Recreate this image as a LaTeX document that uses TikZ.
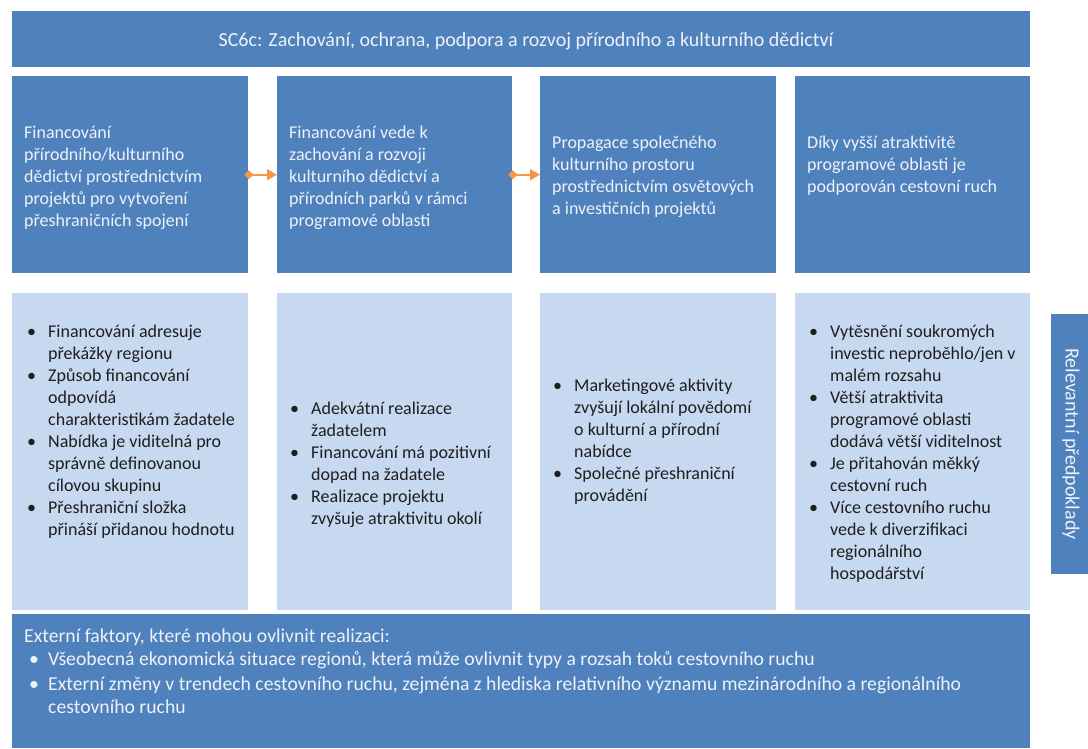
\documentclass[tikz,border=0pt]{standalone}
\usepackage{fontspec}
\setmainfont{Carlito}
\usetikzlibrary{arrows.meta}
\definecolor{dblue}{RGB}{79,129,189}
\definecolor{lblue}{RGB}{198,217,241}
\definecolor{ltext}{RGB}{238,242,248}
\definecolor{dtext}{RGB}{30,30,30}
\definecolor{aorange}{RGB}{247,150,70}
\newcommand{\bl}{\makebox[21pt][l]{\textbullet}}
\newcommand{\nb}{\makebox[21pt][l]{}}
\tikzset{
  x=1pt,y=-1pt,
  darkbox/.style={fill=dblue,draw=none},
  lightbox/.style={fill=lblue,draw=none},
  txt/.style={inner sep=0pt,anchor=north west,align=left,font=\fontsize{18}{22}\selectfont},
  wtxt/.style={txt,text=ltext},
  btxt/.style={txt,text=dtext},
  bigtxt/.style={wtxt,font=\fontsize{20}{23}\selectfont},
  exttxt/.style={wtxt,font=\fontsize{19.7}{23}\selectfont},
  flow/.style={draw=aorange,line width=1.8pt,{Diamond[length=9pt,width=9pt]}-{Triangle[length=10pt,width=11pt]},shorten <=-4pt}
}
\begin{document}
\begin{tikzpicture}
\useasboundingbox (0,0) rectangle (1088,748);
\fill[white] (0,0) rectangle (1088,748);
% title
\fill[dblue] (12,11) rectangle (1030,67);
\node[bigtxt,anchor=center] (title) at (526,41) {SC6c: Zachování, ochrana, podpora a rozvoj přírodního a kulturního dědictví};
% row 1
\node[darkbox,anchor=north west,minimum width=236pt,minimum height=197pt,inner sep=0] (a1) at (12,76) {};
\node[darkbox,anchor=north west,minimum width=235pt,minimum height=197pt,inner sep=0] (a2) at (277,76) {};
\node[darkbox,anchor=north west,minimum width=236pt,minimum height=197pt,inner sep=0] (a3) at (540,76) {};
\node[darkbox,anchor=north west,minimum width=235pt,minimum height=197pt,inner sep=0] (a4) at (795,76) {};
\node[wtxt] (t1) at (24,126) {Financování\\přírodního/kulturního\\dědictví prostřednictvím\\projektů pro vytvoření\\přeshraničních spojení};
\node[wtxt] (t2) at (289,126) {Financování vede k\\zachování a rozvoji\\kulturního dědictví a\\přírodních parků v rámci\\programové oblasti};
\node[wtxt] (t3) at (552,136) {Propagace společného\\kulturního prostoru\\prostřednictvím osvětových\\a investičních projektů};
\node[wtxt] (t4) at (807,136) {Díky vyšší atraktivitě\\programové oblasti je\\podporován cestovní ruch};
\draw[flow] (a1.east) -- (a2.west);
\draw[flow] (a2.east) -- (a3.west);
% row 2
\node[lightbox,anchor=north west,minimum width=236pt,minimum height=317pt,inner sep=0] (b1) at (12,293) {};
\node[lightbox,anchor=north west,minimum width=235pt,minimum height=317pt,inner sep=0] (b2) at (277,293) {};
\node[lightbox,anchor=north west,minimum width=236pt,minimum height=317pt,inner sep=0] (b3) at (540,293) {};
\node[lightbox,anchor=north west,minimum width=235pt,minimum height=317pt,inner sep=0] (b4) at (795,293) {};
\node[btxt] (u1) at (27,325) {\bl Financování adresuje\\\nb překážky regionu\\\bl Způsob financování\\\nb odpovídá\\\nb charakteristikám žadatele\\\bl Nabídka je viditelná pro\\\nb správně definovanou\\\nb cílovou skupinu\\\bl Přeshraniční složka\\\nb přináší přidanou hodnotu};
\node[btxt] (u2) at (290,402) {\bl Adekvátní realizace\\\nb žadatelem\\\bl Financování má pozitivní\\\nb dopad na žadatele\\\bl Realizace projektu\\\nb zvyšuje atraktivitu okolí};
\node[btxt] (u3) at (553,379) {\bl Marketingové aktivity\\\nb zvyšují lokální povědomí\\\nb o kulturní a přírodní\\\nb nabídce\\\bl Společné přeshraniční\\\nb provádění};
\node[btxt] (u4) at (809,325) {\bl Vytěsnění soukromých\\\nb investic neproběhlo/jen v\\\nb malém rozsahu\\\bl Větší atraktivita\\\nb programové oblasti\\\nb dodává větší viditelnost\\\bl Je přitahován měkký\\\nb cestovní ruch\\\bl Více cestovního ruchu\\\nb vede k diverzifikaci\\\nb regionálního\\\nb hospodářství};
% bottom
\fill[dblue] (12,614) rectangle (1030,748);
\node[exttxt] (ext) at (24,629) {Externí faktory, které mohou ovlivnit realizaci:\\
\makebox[5pt][l]{}\makebox[19pt][l]{\textbullet}Všeobecná ekonomická situace regionů, která může ovlivnit typy a rozsah toků cestovního ruchu\\[2pt]
\makebox[5pt][l]{}\makebox[19pt][l]{\textbullet}Externí změny v trendech cestovního ruchu, zejména z hlediska relativního významu mezinárodního a regionálního\\
\makebox[24pt][l]{}cestovního ruchu};
% side
\fill[dblue] (1051,314) rectangle (1088,574);
\node[bigtxt,anchor=center,rotate=-90] (side) at (1071,444) {Relevantní předpoklady};
\end{tikzpicture}
\end{document}
